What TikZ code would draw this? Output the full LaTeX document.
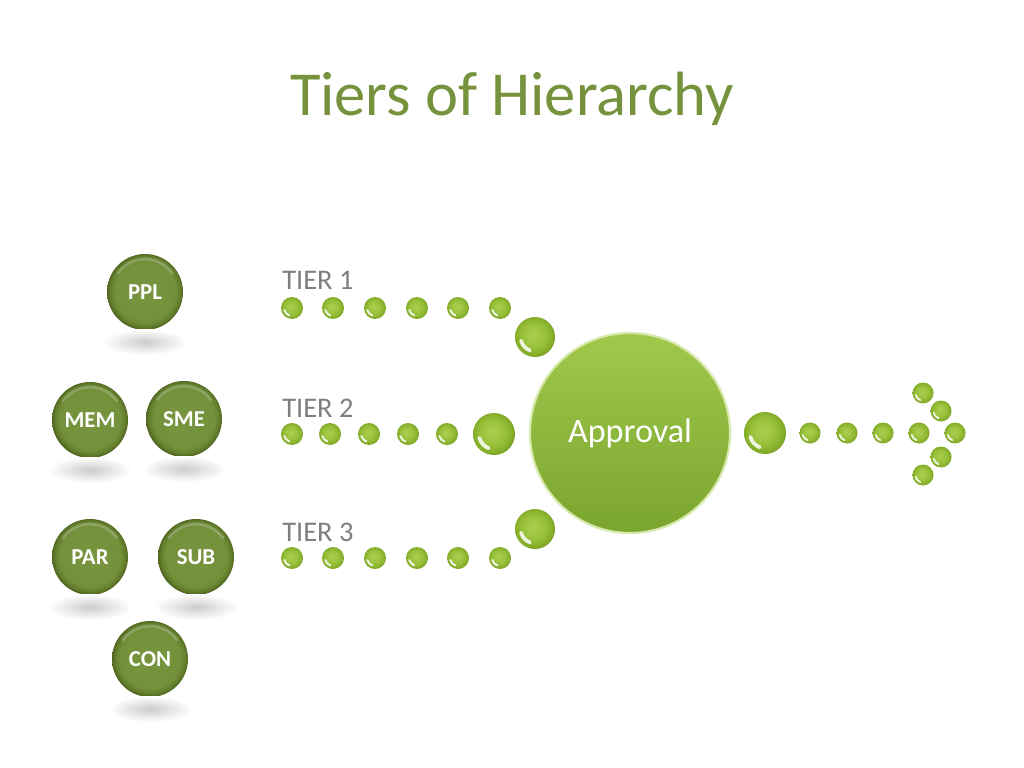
\documentclass[tikz,border=0pt]{standalone}
\usepackage{fontspec}
\setmainfont{Carlito}
\usetikzlibrary{calc}

\definecolor{titlegreen}{RGB}{118,146,60}
\definecolor{tiergray}{RGB}{127,127,127}
\definecolor{apptop}{RGB}{160,201,76}
\definecolor{appbot}{RGB}{122,165,46}
\definecolor{apprim}{RGB}{214,232,170}

\pgfdeclareradialshading{darkshade}{\pgfpoint{0bp}{1bp}}{rgb(0bp)=(0.47,0.58,0.25); rgb(20bp)=(0.45,0.57,0.23); rgb(23.5bp)=(0.38,0.48,0.17); rgb(25.5bp)=(0.29,0.37,0.10); rgb(50bp)=(0.29,0.37,0.10)}
\pgfdeclareradialshading{beadshade}{\pgfpoint{-3bp}{3bp}}{rgb(0bp)=(0.68,0.81,0.32); rgb(16bp)=(0.59,0.75,0.22); rgb(25bp)=(0.50,0.66,0.15); rgb(28bp)=(0.38,0.52,0.09); rgb(50bp)=(0.38,0.52,0.09)}

\tikzset{
  darkball/.style={circle, inner sep=0pt, minimum size=76*0.703125pt, shading=darkshade, text=white, font=\bfseries\fontsize{16}{18}\selectfont,
    path picture={\draw[white, opacity=.22, line width=2pt, line cap=round] ($(path picture bounding box.center)+(35:33)$) arc [start angle=35, end angle=145, radius=33];}},
  groundshadow/.style={inner color=black!20, outer color=white},
  bead/.style={circle, inner sep=0pt, minimum size=#1*0.703125pt, shading=beadshade,
    path picture={\draw[white, opacity=.85, line width={0.09*#1*0.703125pt}, line cap=round] ($(path picture bounding box.center)+(195:{0.36*#1})$) arc [start angle=195, end angle=250, radius={0.36*#1}];}},
  bead/.default=22,
  tierlabel/.style={anchor=base west, inner sep=0pt, text=tiergray, font=\fontsize{20}{24}\selectfont}
}

\begin{document}
\begin{tikzpicture}[x=0.703125pt,y=0.703125pt]
\fill[white] (0,0) rectangle (1024,-768);
\useasboundingbox (0,0) rectangle (1024,-768);

\node[anchor=base, text=titlegreen, font=\fontsize{44}{52}\selectfont] (title) at (512,-116) {Tiers of Hierarchy};

\node[darkball] (ppl) at (145,-292) {PPL};
\node[darkball] (mem) at (90,-420) {MEM};
\node[darkball] (sme) at (184,-419) {SME};
\node[darkball] (par) at (90,-557) {PAR};
\node[darkball] (sub) at (196,-557) {SUB};
\node[darkball] (con) at (150,-659) {CON};

\shade[groundshadow] ($(ppl.center)+(0,-50)$) ellipse (42 and 13);
\shade[groundshadow] ($(mem.center)+(0,-50)$) ellipse (42 and 13);
\shade[groundshadow] ($(sme.center)+(0,-50)$) ellipse (42 and 13);
\shade[groundshadow] ($(par.center)+(0,-50)$) ellipse (42 and 13);
\shade[groundshadow] ($(sub.center)+(0,-50)$) ellipse (42 and 13);
\shade[groundshadow] ($(con.center)+(0,-50)$) ellipse (42 and 13);

\node[tierlabel] (tier1) at (282,-290) {TIER 1};
\node[tierlabel] (tier2) at (282,-417) {TIER 2};
\node[tierlabel] (tier3) at (282,-541) {TIER 3};

\node[circle, inner sep=0pt, minimum size=200*0.703125pt, top color=apptop, bottom color=appbot, draw=apprim, line width=1.5, text=white, font=\fontsize{24}{28}\selectfont] (approval) at (630,-433) {Approval};

\node[bead] (t1a) at (292,-308) {};
\node[bead] (t1b) at (333,-308) {};
\node[bead] (t1c) at (375,-308) {};
\node[bead] (t1d) at (417,-308) {};
\node[bead] (t1e) at (458,-308) {};
\node[bead] (t1f) at (500,-308) {};
\node[bead=40] (t1g) at (535,-337) {};

\node[bead] (t2a) at (292,-434) {};
\node[bead] (t2b) at (330,-434) {};
\node[bead] (t2c) at (369,-434) {};
\node[bead] (t2d) at (408,-434) {};
\node[bead] (t2e) at (447,-434) {};
\node[bead=42] (t2f) at (494,-434) {};

\node[bead] (t3a) at (292,-558) {};
\node[bead] (t3b) at (333,-558) {};
\node[bead] (t3c) at (375,-558) {};
\node[bead] (t3d) at (417,-558) {};
\node[bead] (t3e) at (458,-558) {};
\node[bead] (t3f) at (500,-558) {};
\node[bead=40] (t3g) at (535,-529) {};

\node[bead=42] (out) at (765,-433) {};
\node[bead=21] (o1) at (810,-433) {};
\node[bead=21] (o2) at (847,-433) {};
\node[bead=21] (o3) at (883,-433) {};
\node[bead=21] (o4) at (919,-433) {};

\node[bead=21] (tipa) at (923,-393) {};
\node[bead=21] (tipb) at (941,-411) {};
\node[bead=21] (tipc) at (955,-433) {};
\node[bead=21] (tipd) at (941,-457) {};
\node[bead=21] (tipe) at (923,-475) {};
\end{tikzpicture}
\end{document}
